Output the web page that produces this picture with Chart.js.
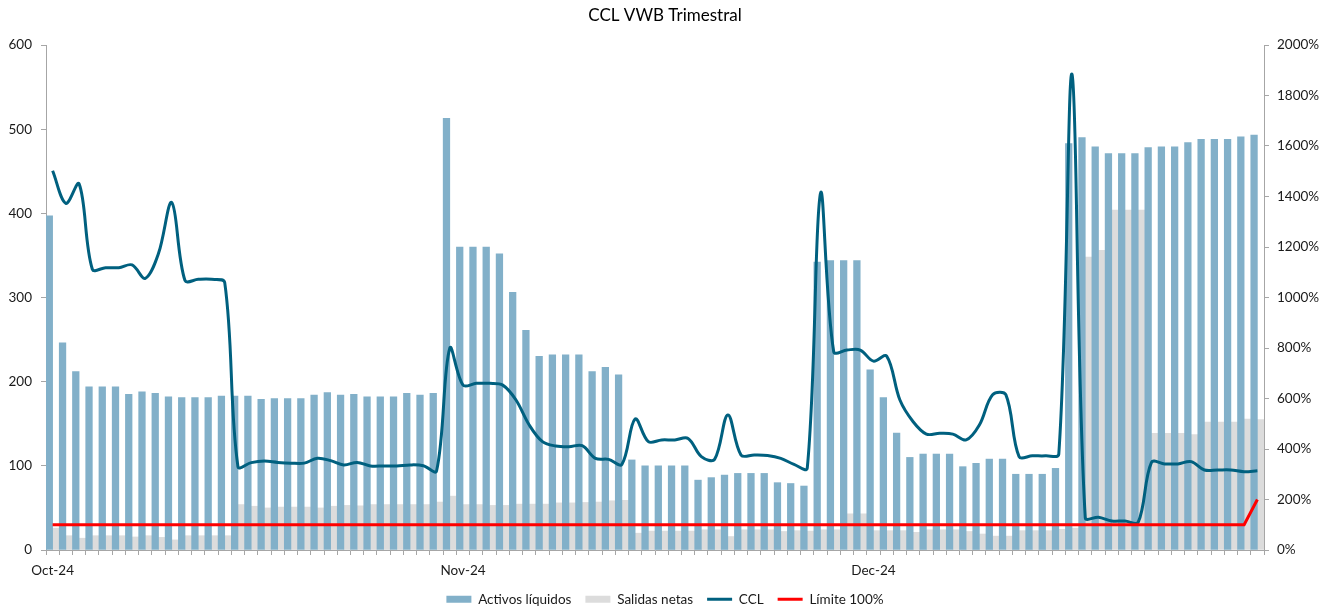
<!DOCTYPE html>
<html>
<head>
<meta charset="utf-8">
<script src="https://cdn.jsdelivr.net/npm/chart.js"></script>
<style>
  body { margin: 0; background: #fff; }
  #wrap { width: 1330px; height: 608px; }
</style>
</head>
<body>
<div id="wrap"><canvas id="grafico" width="1330" height="608"></canvas></div>
<script>
'use strict'
// etiquetas del eje X (solo se muestran tres)
const tickIndex = [0, 31, 62];
const tickText = ['Oct-24', 'Nov-24', 'Dec-24'];

// Activos líquidos (eje izquierdo)
const activos = [
  397, 246, 212, 194, 194, 194, 185, 188, 186, 182,
  181, 181, 181, 183, 183, 183, 179, 180, 180, 180,
  184, 187, 184, 185, 182, 182, 182, 186, 184, 186,
  513, 360, 360, 360, 352, 306, 261, 230, 232, 232,
  232, 212, 217, 208, 107, 100, 100, 100, 100, 83,
  86, 89, 91, 91, 91, 80, 79, 76, 342, 344,
  344, 344, 214, 181, 139, 110, 114, 114, 114, 99,
  103, 108, 108, 90, 90, 90, 97, 483, 490, 479,
  471, 471, 471, 478, 479, 479, 484, 488, 488, 488,
  491, 493
];

// Salidas netas (eje izquierdo)
const salidas = [
  26, 17, 14, 17, 17, 17, 15.5, 17, 15, 12,
  17, 17, 17, 17, 54, 52, 50, 51, 51, 51,
  50, 52, 53, 52.5, 54, 54, 54, 54, 54, 57,
  64, 54, 54, 53, 53, 54.5, 54.5, 54.5, 56, 56,
  56.5, 57, 58.5, 59, 20, 22.5, 22.5, 22.5, 22.5, 24,
  24, 16, 24, 24, 24, 22, 23, 22.5, 24, 24,
  43, 43, 23, 23, 23, 21, 24, 24, 24, 22,
  19, 16.5, 16.5, 23, 23, 23, 24.5, 26, 348, 356,
  404, 404, 404, 138.6, 138.6, 138.6, 137, 152, 152, 152,
  155.6, 155
];

// CCL en % (eje derecho)
const ccl = [
  1502, 1373, 1450, 1112, 1118, 1118, 1129, 1076, 1175, 1376,
  1067, 1072, 1072, 1059, 330, 346, 352, 347, 344, 344,
  363, 354, 337, 347, 333, 333, 333, 337, 334, 313,
  799, 653, 660, 660, 653, 594, 495, 429, 412, 409,
  413, 363, 359, 339, 519, 429, 436, 436, 442, 370,
  359, 535, 376, 376, 374, 363, 339, 324, 1413, 785,
  792, 792, 748, 768, 594, 508, 459, 462, 459, 436,
  495, 615, 615, 370, 373, 373, 380, 1884, 128, 130,
  115, 115, 110, 347, 341, 341, 350, 317, 317, 317,
  310, 314
];

// Límite 100% (eje derecho)
const limite = [
  100, 100, 100, 100, 100, 100, 100, 100, 100, 100,
  100, 100, 100, 100, 100, 100, 100, 100, 100, 100,
  100, 100, 100, 100, 100, 100, 100, 100, 100, 100,
  100, 100, 100, 100, 100, 100, 100, 100, 100, 100,
  100, 100, 100, 100, 100, 100, 100, 100, 100, 100,
  100, 100, 100, 100, 100, 100, 100, 100, 100, 100,
  100, 100, 100, 100, 100, 100, 100, 100, 100, 100,
  100, 100, 100, 100, 100, 100, 100, 100, 100, 100,
  100, 100, 100, 100, 100, 100, 100, 100, 100, 100,
  100, 200
];

// una categoría por día
const dias = activos.map((v, i) => i);

const ejeColor = '#A6A6A6';
const fuente = 'Lato, "Open Sans", sans-serif';
Chart.defaults.font.family = fuente;
Chart.defaults.color = '#1a1a1a';

const ctx = document.getElementById('grafico').getContext('2d');
new Chart(ctx, {
  data: {
    labels: dias,
    datasets: [
      {
        type: 'bar',
        label: 'Activos líquidos',
        data: activos,
        backgroundColor: '#82B0C9',
        borderWidth: 0,
        categoryPercentage: 1,
        barPercentage: 1,
        yAxisID: 'y',
        pointStyle: 'rect',
        order: 2, // va a la izquierda dentro del grupo
      }, {
        type: 'bar',
        label: 'Salidas netas',
        data: salidas,
        backgroundColor: '#DCDCDC',
        borderWidth: 0,
        categoryPercentage: 1,
        barPercentage: 1,
        yAxisID: 'y',
        pointStyle: 'rect',
        order: 3,
      }, {
        type: 'line',
        label: 'CCL',
        data: ccl,
        borderColor: '#00607F',
        backgroundColor: '#00607F',
        borderWidth: 3,
        pointRadius: 0,
        tension: 0.35,
        yAxisID: 'y1',
        pointStyle: 'line',
        order: 1,
      }, {
        type: 'line',
        label: 'Límite 100%',
        data: limite,
        borderColor: '#FF0000',
        backgroundColor: '#FF0000',
        borderWidth: 3,
        pointRadius: 0,
        tension: 0,
        yAxisID: 'y1',
        pointStyle: 'line',
        order: 0,
      },
    ],
  },
  options: {
    responsive: false,
    animation: false,
    layout: { padding: { top: 0, left: 0, right: 0, bottom: -8 } },
    plugins: {
      title: {
        display: true,
        text: 'CCL VWB Trimestral',
        color: '#000',
        font: { size: 17, weight: 'normal', family: fuente },
        padding: { top: 5, bottom: 19.6 },
      },
      legend: {
        position: 'bottom',
        labels: {
          usePointStyle: true,
          pointStyleWidth: 25,
          boxWidth: 25,
          boxHeight: 7,
          padding: 14,
          color: '#1a1a1a',
          font: { size: 13.5 },
          sort: (a, b) => a.datasetIndex - b.datasetIndex,
        },
      },
      tooltip: { enabled: false },
    },
    scales: {
      x: {
        type: 'category',
        offset: true,
        grid: { offset: true, drawOnChartArea: false, drawTicks: true, tickLength: 5, tickColor: ejeColor },
        border: { color: ejeColor },
        ticks: {
          autoSkip: false,
          maxRotation: 0,
          padding: 8,
          font: { size: 13.5 },
          callback: function (value, index) {
            const p = tickIndex.indexOf(index);
            return p >= 0 ? tickText[p] : '';
          },
        },
        afterFit: (s) => { s.height = 28.5; },
      },
      y: {
        position: 'left',
        min: 0,
        max: 600,
        grid: { drawOnChartArea: false, tickLength: 5, tickColor: ejeColor },
        border: { color: ejeColor },
        ticks: { stepSize: 100, padding: 9, font: { size: 13.5 } },
        afterFit: (s) => { s.width = 46; },
      },
      y1: {
        position: 'right',
        min: 0,
        max: 2000,
        grid: { drawOnChartArea: false, tickLength: 5, tickColor: ejeColor },
        border: { color: ejeColor },
        ticks: { stepSize: 200, padding: 8, font: { size: 13.5 }, callback: (v) => v + '%' },
        afterFit: (s) => { s.width = 66; },
      },
    },
  },
});
</script>
</body>
</html>
